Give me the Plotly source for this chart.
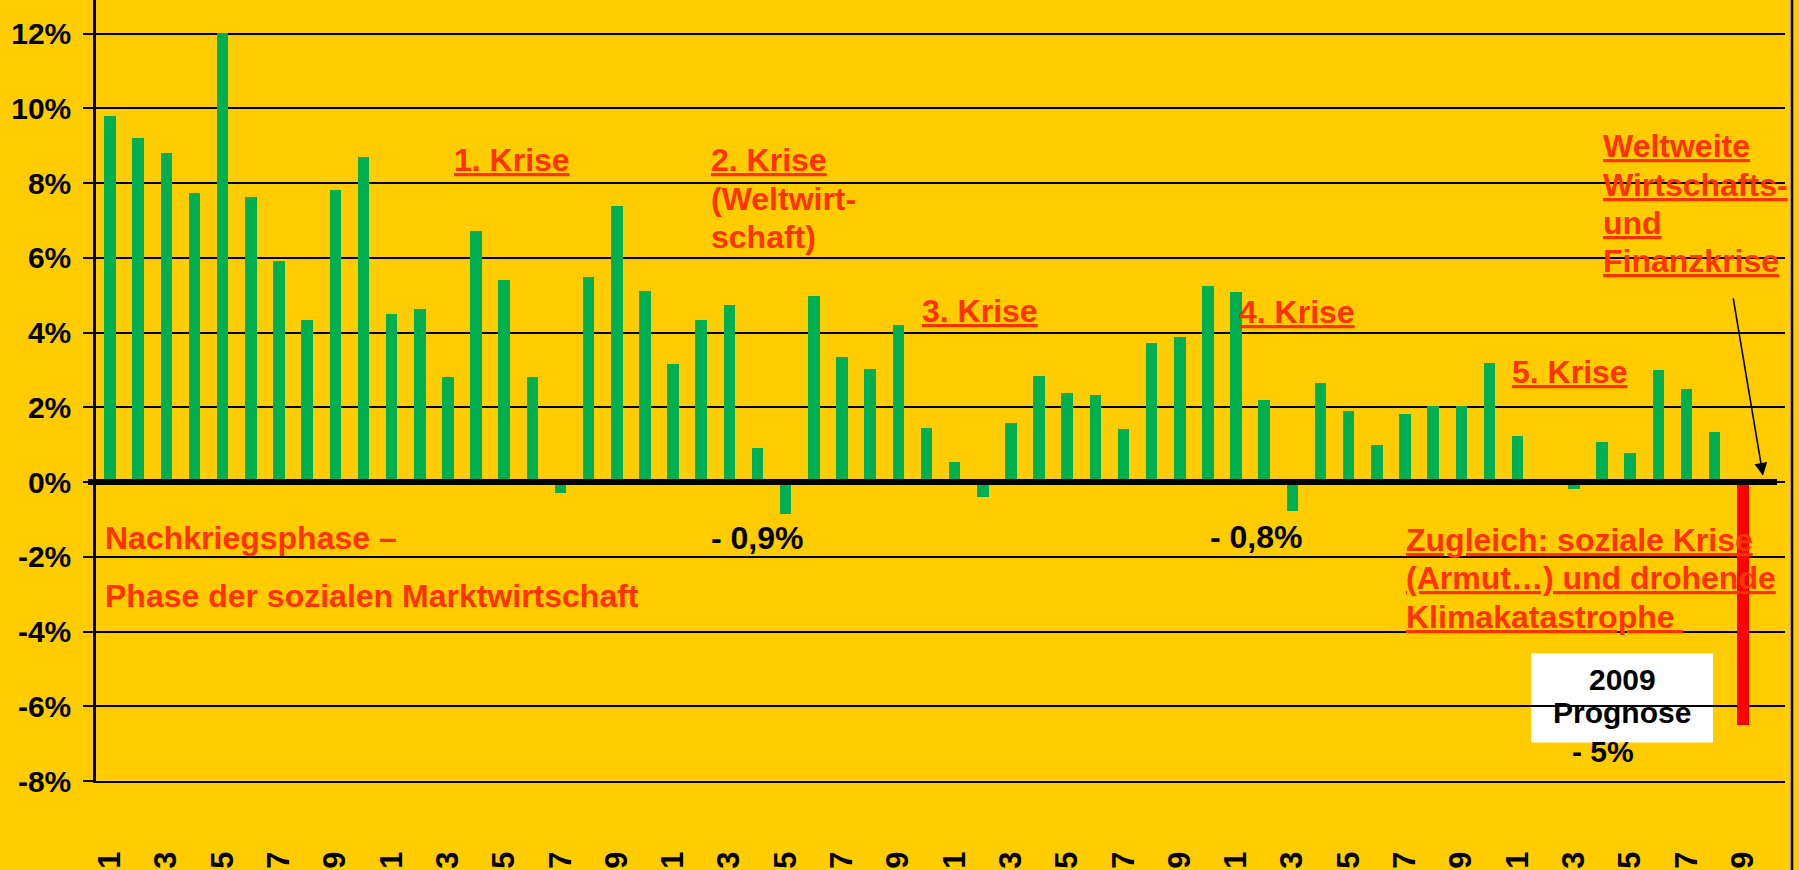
import plotly.graph_objects as go

# ---------------- data ----------------
years = list(range(1951, 2010))
growth = [
    9.8, 9.2, 8.8, 7.73, 12.03, 7.62, 5.91, 4.33, 7.81, 8.69,    # 1951-1960
    4.51, 4.62, 2.8, 6.73, 5.4, 2.8, -0.29, 5.5, 7.4, 5.1,       # 1961-1970
    3.15, 4.33, 4.75, 0.9, -0.86, 4.97, 3.34, 3.02, 4.19, 1.44,  # 1971-1980
    0.55, -0.4, 1.57, 2.85, 2.37, 2.32, 1.43, 3.73, 3.88, 5.24,  # 1981-1990
    5.08, 2.2, -0.78, 2.66, 1.91, 0.98, 1.83, 2.03, 2.03, 3.19,  # 1991-2000
    1.22, 0.0, -0.19, 1.08, 0.79, 3.01, 2.5, 1.33, -6.5,         # 2001-2009
]
forecast_year = 2009
tick_years = years[::2]
tick_labels = [str(y) for y in tick_years]
y_ticks = [-8, -6, -4, -2, 0, 2, 4, 6, 8, 10, 12]
y_tick_labels = ["-8%", "-6%", "-4%", "-2%", "0%", "2%", "4%", "6%", "8%", "10%", "12%"]

# ---------------- style ----------------
BG = "#FFCC00"
GREEN = "#00B050"
RED = "#FF0000"
TXT = "#FF3300"
FONT = "Liberation Sans, Arial, sans-serif"
W, H = 1799, 870
L, R, T, B = 96, 1785, 0, 781.5
XR = [1950.5, 2010.5]
YR = [-8, 12.9]


def xd(px):
    return XR[0] + (px - L) / (R - L) * (XR[1] - XR[0])


def yd(py):
    return YR[1] - (py - T) / (B - T) * (YR[1] - YR[0])


bar_colors = [RED if y == forecast_year else GREEN for y in years]

fig = go.Figure()
fig.add_bar(x=years, y=growth, marker=dict(color=bar_colors, line=dict(width=0)),
            width=0.41, hoverinfo="x+y")

annots = []


def txt(lines, left_px, baselines, color=TXT, size=32, xanchor="left"):
    if isinstance(lines, str):
        lines, baselines = [lines], [baselines]
    for line, base in zip(lines, baselines):
        annots.append(dict(
            text=line, x=xd(left_px), y=yd(base - 0.905 * size), xref="x", yref="y",
            xanchor=xanchor, yanchor="top", align="left", showarrow=False, borderpad=0,
            font=dict(family=FONT, size=size, color=color, weight="bold"),
        ))


txt("<u>1. Krise</u>", 453, 170)
txt(["<u>2. Krise</u>", "(Weltwirt-", "schaft)"], 710, [170, 209, 247])
txt("<u>3. Krise</u>", 921, 321)
txt("<u>4. Krise</u>", 1238, 322)
txt("<u>5. Krise</u>", 1511, 382)
txt(["<u>Weltweite</u>", "<u>Wirtschafts-</u>", "<u>und</u>", "<u>Finanzkrise</u>"],
    1602, [156, 195, 233, 271])
txt("Nachkriegsphase –", 104, 548)
txt("Phase der sozialen Marktwirtschaft", 104, 606)
txt("- 0,9%", 710, 548, color="black")
txt("- 0,8%", 1209, 547, color="black")
txt(["<u>Zugleich: soziale Krise</u>", "<u>(Armut…) und drohende</u>", "<u>Klimakatastrophe </u>"],
    1405, [550, 588, 627])
txt(["2009", "Prognose"], 1622, [690, 723], color="black", size=30, xanchor="center")
txt("- 5%", 1603, 762, color="black", size=30, xanchor="center")

# arrow
annots.append(dict(
    text="", x=xd(1763), y=yd(476), ax=xd(1733), ay=yd(297),
    xref="x", yref="y", axref="x", ayref="y", showarrow=True,
    arrowhead=2, arrowsize=1.6, arrowwidth=1.6, arrowcolor="black",
))

shapes = [
    # white box behind the forecast label
    dict(type="rect", xref="x", yref="y", x0=xd(1531), x1=xd(1713), y0=yd(654), y1=yd(743),
         fillcolor="white", line=dict(width=0), layer="below"),
    # thick zero line
    dict(type="line", xref="paper", yref="y", x0=(88 - L) / (R - L), x1=(1777 - L) / (R - L),
         y0=0, y1=0, line=dict(color="black", width=6), layer="above"),
    # right border of the slide
    dict(type="line", xref="paper", yref="paper", x0=(1792 - L) / (R - L), x1=(1792 - L) / (R - L),
         y0=-0.2, y1=1.05, line=dict(color="black", width=2.5)),
]

fig.update_layout(
    width=W, height=H,
    margin=dict(l=L, r=W - R, t=T, b=H - B, pad=0),
    paper_bgcolor=BG, plot_bgcolor=BG,
    showlegend=False, bargap=0,
    font=dict(family=FONT, color="black"),
    annotations=annots, shapes=shapes,
    xaxis=dict(
        range=XR, tickmode="array", tickvals=tick_years, ticktext=tick_labels,
        tickangle=-90, ticks="", showgrid=False, zeroline=False,
        showline=True, linecolor="black", linewidth=2,
        tickfont=dict(family=FONT, size=31, color="black", weight="bold"),
        ticklabelstandoff=56, automargin=False, fixedrange=True,
    ),
    yaxis=dict(
        range=YR, tickmode="array", tickvals=y_ticks, ticktext=y_tick_labels,
        ticks="outside", ticklen=10, tickwidth=2, tickcolor="black",
        showgrid=True, gridcolor="black", gridwidth=2, zeroline=False,
        showline=True, linecolor="black", linewidth=2.5,
        tickfont=dict(family=FONT, size=30, color="black", weight="bold"),
        ticklabelstandoff=6, automargin=False, fixedrange=True,
    ),
)

fig.write_html("out.html", config={"displayModeBar": False},
               post_script="document.body.style.margin='0';document.body.style.overflow='hidden';")
